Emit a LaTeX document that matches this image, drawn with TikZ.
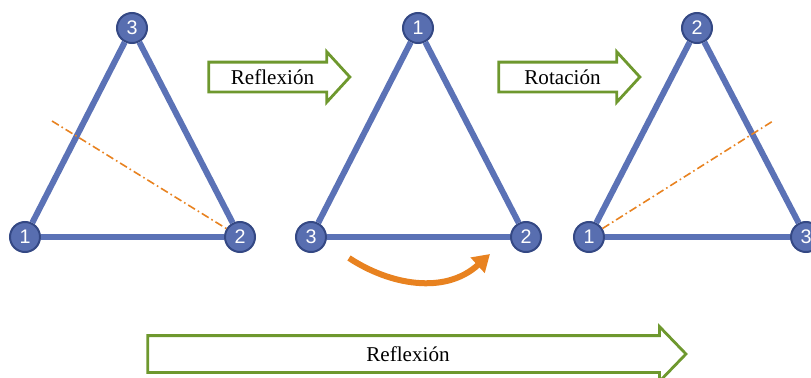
\documentclass[tikz,border=0pt]{standalone}
\usepackage{fontspec}
\setmainfont{Liberation Serif}
\newfontfamily\cifras{Liberation Sans}
\usepackage{tikz}
\usetikzlibrary{shapes.arrows, arrows.meta}
\definecolor{azul}{RGB}{91,114,182}
\definecolor{azulfondo}{RGB}{88,110,176}
\definecolor{azulborde}{RGB}{52,72,132}
\definecolor{naranja}{RGB}{232,130,32}
\definecolor{verde}{RGB}{110,152,46}
\tikzstyle{vertice} = [circle, 
minimum size=0.75cm, 
inner sep=0pt, 
fill=azulfondo, 
draw=azulborde, 
line width=0.05cm, 
text=white, 
font=\cifras\fontsize{14}{14}\selectfont]
\tikzstyle{lado} = [draw=azul, line width=0.15cm]
\tikzstyle{eje} = [draw=naranja, line width=0.04cm, 
dash pattern=on 0.2cm off 0.08cm on 0.04cm off 0.08cm]
\tikzstyle{flecha} = [single arrow, 
draw=verde, 
fill=white, 
line width=0.07cm, 
inner xsep=0pt, 
inner ysep=0pt, 
text height=0.5175cm, 
text depth=0.1575cm, 
single arrow head extend=0.26cm, 
single arrow tip angle=95, 
minimum height=3.525cm, 
font=\fontsize{15}{15}\selectfont]
\tikzstyle{giro} = [draw=naranja, line width=0.15cm, -{Triangle[length=0.42cm, width=0.5cm]}]

\begin{document}
\begin{tikzpicture}[x=0.025cm, y=-0.025cm]
        \useasboundingbox (0,0) rectangle (811,377);

        % --- Triángulo inicial ---
        \node (a1) [vertice] at (25,237) {1};
        \node (a2) [vertice] at (240,237) {2};
        \node (a3) [vertice] at (132,28) {3};
        \draw [lado] (a1) -- (a2);
        \draw [lado] (a2) -- (a3);
        \draw [lado] (a3) -- (a1);
        \coordinate (eje1) at (52,121);
        \draw [eje] (eje1) -- (a2);

        % --- Triángulo reflejado ---
        \node (b1) [vertice] at (418,28) {1};
        \node (b2) [vertice] at (526,237) {2};
        \node (b3) [vertice] at (311,237) {3};
        \draw [lado] (b3) -- (b2);
        \draw [lado] (b2) -- (b1);
        \draw [lado] (b1) -- (b3);

        % --- Triángulo rotado ---
        \node (c1) [vertice] at (589,237) {1};
        \node (c2) [vertice] at (697,28) {2};
        \node (c3) [vertice] at (806,237) {3};
        \draw [lado] (c1) -- (c3);
        \draw [lado] (c3) -- (c2);
        \draw [lado] (c2) -- (c1);
        \coordinate (eje3) at (773,121);
        \draw [eje] (c1) -- (eje3);

        % --- Flechas de operación ---
        \node (refl) [flecha] at (272.5,77) {Reflexión};
        \node (rot) [flecha] at (562.5,77) {Rotación};
        \node (total) [flecha, minimum height=13.45cm, text height=0.605cm, text depth=0.245cm,
            single arrow head extend=0.225cm, single arrow tip angle=92] at (408,354) {Reflexión};

        % Giro del triángulo reflejado
        \coordinate (giroA) at (349,258);
        \coordinate (giroB) at (490,254);
        \draw [giro] (giroA) .. controls (390,285) and (445,295) .. (giroB);

    \end{tikzpicture}
\end{document}
